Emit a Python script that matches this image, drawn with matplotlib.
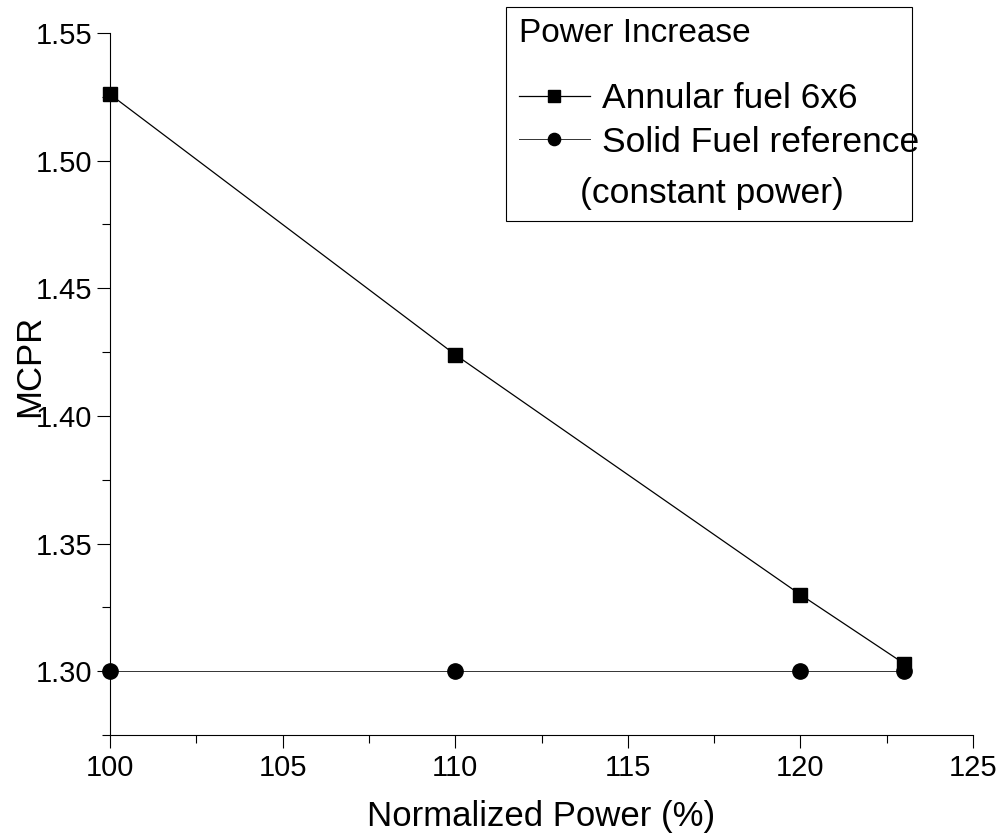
import matplotlib
matplotlib.use("Agg")
import matplotlib.pyplot as plt
from matplotlib.patches import Rectangle
from matplotlib.ticker import MultipleLocator

plt.rcParams['font.family'] = ['Liberation Sans', 'DejaVu Sans']

# ---- data ----
power = [100, 110, 120, 123]
annular_mcpr = [1.526, 1.424, 1.330, 1.303]
solid_mcpr = [1.300, 1.300, 1.300, 1.300]

xlabel = "Normalized Power (%)"
ylabel = "MCPR"
legend_title = "Power Increase"
annular_label = "Annular fuel 6x6"
solid_label = "Solid Fuel reference"
solid_label2 = "(constant power)"

W, H = 1003, 839
fig = plt.figure(figsize=(W / 100, H / 100), dpi=100)
ax = fig.add_axes([110 / W, (H - 735) / H, 863 / W, 702 / H])

l1, = ax.plot(power, annular_mcpr, color='black', lw=0.9, marker='s',
              markersize=10.5, clip_on=False, zorder=3)
l2, = ax.plot(power, solid_mcpr, color='#333333', lw=0.7, marker='o',
              markersize=11, markerfacecolor='black', markeredgecolor='black',
              clip_on=False, zorder=3)

ax.set_xlim(100, 125)
ax.set_ylim(1.275, 1.55)
ax.xaxis.set_major_locator(MultipleLocator(5))
ax.xaxis.set_minor_locator(MultipleLocator(2.5))
ax.yaxis.set_major_locator(MultipleLocator(0.05))
ax.yaxis.set_minor_locator(MultipleLocator(0.025))
ax.yaxis.set_major_formatter(matplotlib.ticker.FormatStrFormatter('%.2f'))

for s in ['top', 'right']:
    ax.spines[s].set_visible(False)
for s in ['left', 'bottom']:
    ax.spines[s].set_linewidth(0.8)

ax.tick_params(which='major', direction='out', length=9.5, width=0.8,
               labelsize=21, pad=4)
ax.tick_params(which='minor', direction='out', length=5.5, width=0.8)
ax.tick_params(axis='y', which='major', pad=3.5)

ax.set_xlabel(xlabel, fontsize=25, labelpad=13)
ax.set_ylabel(ylabel, fontsize=25)
ax.yaxis.set_label_coords(-0.074, 0.526)

leg = ax.legend([l1, l2, plt.Line2D([], [], lw=0, marker=None)],
                [annular_label, solid_label, " "],
                title=legend_title, title_fontsize=24, fontsize=25.5,
                frameon=False, loc='upper left',
                bbox_to_anchor=(519 / W, 1 - 18 / H),
                bbox_transform=fig.transFigure, borderaxespad=0,
                borderpad=0, alignment='left', handlelength=2.0,
                handletextpad=0.35, labelspacing=0.29, markerscale=0.8)
leg._legend_box.sep = 24

fig.text(580 / W, 1 - 193 / H, solid_label2, fontsize=25.5, va='center',
         ha='left')

fig.patches.append(Rectangle((506 / W, 1 - 221 / H), 406 / W, 214 / H,
                             transform=fig.transFigure, fill=False,
                             edgecolor='black', lw=0.8, zorder=5))

fig.savefig("out.png", dpi=100)
